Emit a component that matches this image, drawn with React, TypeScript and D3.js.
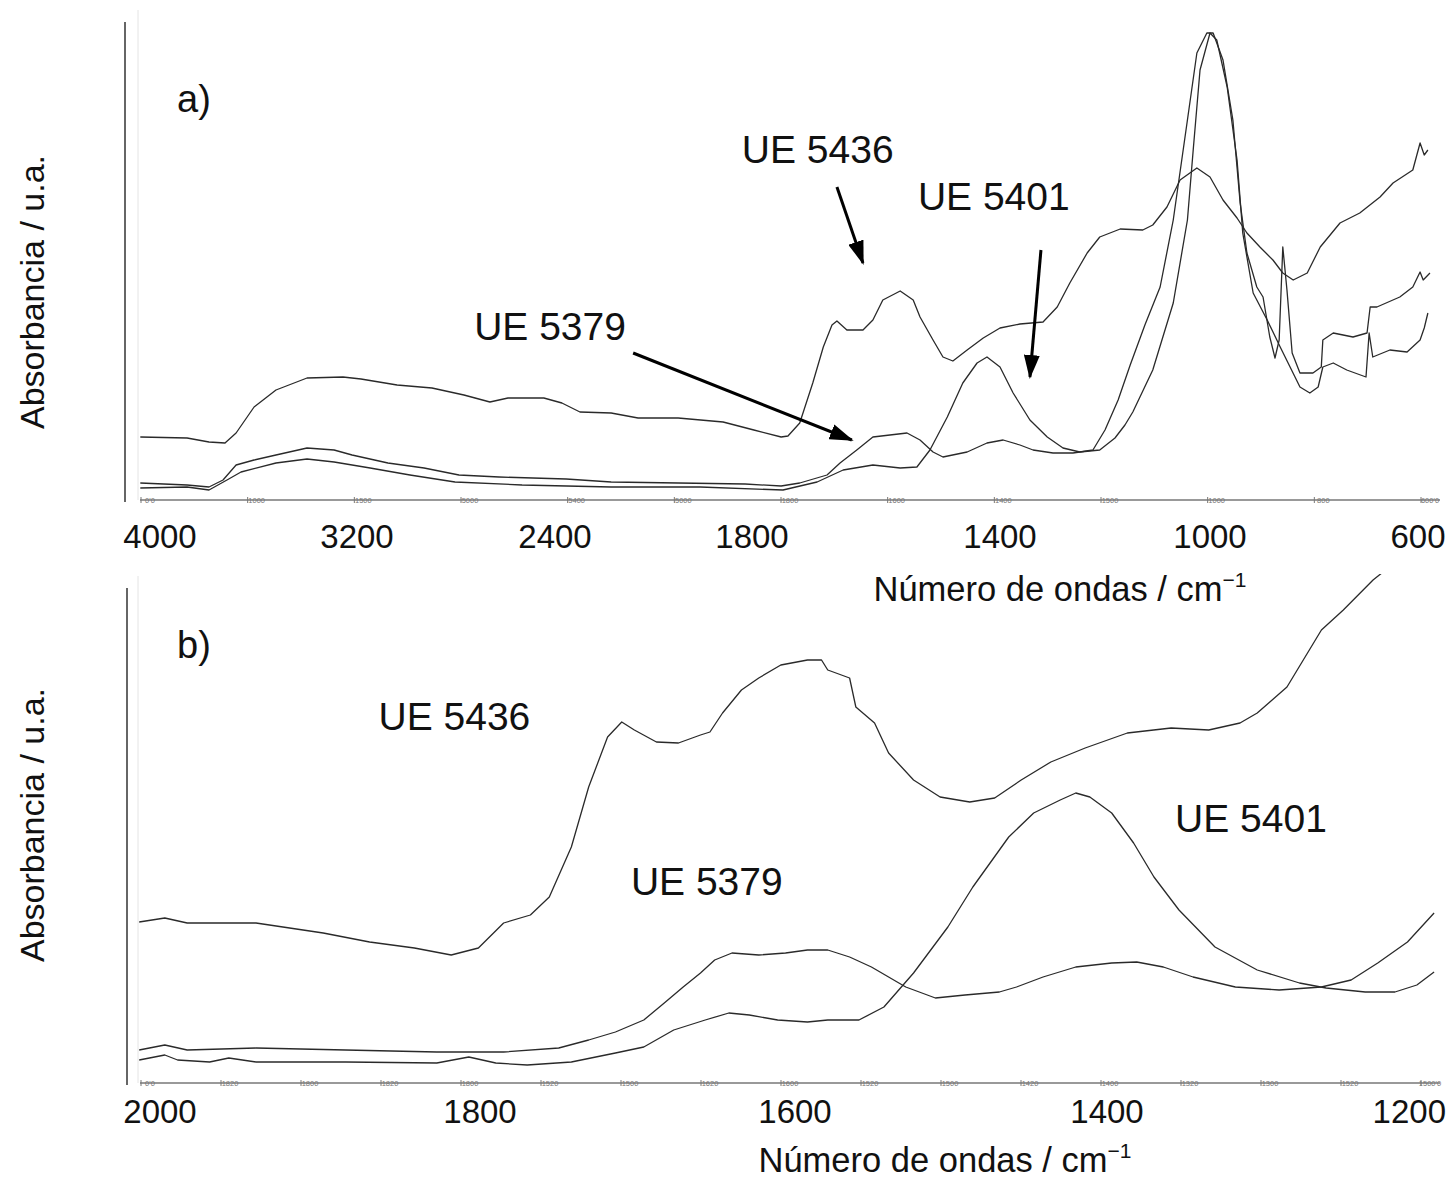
import { useEffect, useRef } from "react";
import * as d3 from "d3";

const FONT = "'Liberation Sans', Arial, Helvetica, sans-serif";

// ---- panel a) full range, wavenumber (cm-1) vs absorbance (a.u.)
const ticksA = [4000, 3200, 2400, 1800, 1400, 1000, 600];
const innerLabelsA = ["0'0", "1000", "1500", "5000", "5400", "5000", "1800", "1600", "1400", "1500", "1000", "800", "600'0"];

const ue5436A = [
  [4080, 0.63], [3890, 0.62], [3801, 0.58], [3736, 0.57], [3691, 0.67], [3618, 0.93], [3529, 1.1],
  [3403, 1.22], [3257, 1.23], [3184, 1.21], [3038, 1.15], [2897, 1.12], [2768, 1.05], [2663, 0.98],
  [2590, 1.02], [2445, 1.02], [2379, 0.97], [2324, 0.88], [2229, 0.87], [2147, 0.82], [2025, 0.82],
  [1888, 0.78], [1797, 0.7], [1753, 0.63], [1742, 0.64], [1723, 0.77], [1702, 1.17], [1685, 1.53],
  [1671, 1.75], [1663, 1.79], [1647, 1.7], [1621, 1.7], [1605, 1.8], [1589, 2.0], [1561, 2.09],
  [1540, 2.0], [1529, 1.83], [1508, 1.6], [1492, 1.43], [1476, 1.39], [1453, 1.5], [1427, 1.62],
  [1400, 1.72], [1362, 1.76], [1318, 1.78], [1291, 1.93], [1267, 2.17], [1234, 2.47], [1210, 2.63],
  [1171, 2.71], [1128, 2.7], [1109, 2.75], [1082, 2.93], [1057, 3.2], [1025, 3.32], [1000, 3.23],
  [975, 3.0], [948, 2.82], [929, 2.67], [904, 2.53], [879, 2.4], [860, 2.27], [840, 2.2], [813, 2.27],
  [788, 2.53], [750, 2.77], [712, 2.87], [673, 3.03], [648, 3.17], [610, 3.3], [596, 3.57], [588, 3.45],
  [581, 3.5],
];

const ue5379A = [
  [4080, 0.17], [3890, 0.15], [3801, 0.13], [3744, 0.2], [3691, 0.35], [3618, 0.4], [3529, 0.45],
  [3403, 0.52], [3293, 0.5], [3220, 0.45], [3075, 0.37], [2929, 0.32], [2788, 0.25], [2626, 0.23],
  [2366, 0.21], [2229, 0.18], [2025, 0.17], [1821, 0.16], [1753, 0.14], [1723, 0.17], [1679, 0.25],
  [1658, 0.37], [1631, 0.5], [1605, 0.63], [1550, 0.67], [1529, 0.6], [1508, 0.48], [1492, 0.43],
  [1453, 0.48], [1421, 0.57], [1394, 0.6], [1362, 0.55], [1337, 0.5], [1299, 0.47], [1261, 0.47],
  [1223, 0.5], [1200, 0.7], [1175, 1.0], [1152, 1.35], [1124, 1.75], [1095, 2.13], [1070, 2.8],
  [1043, 3.8], [1025, 4.47], [1006, 4.67], [994, 4.67], [975, 4.4], [956, 3.8], [942, 2.97],
  [929, 2.47], [910, 2.13], [898, 2.03], [885, 1.63], [875, 1.42], [867, 1.6], [860, 2.53], [852, 2.1],
  [842, 1.47], [827, 1.27], [802, 1.27], [786, 1.33], [783, 1.6], [763, 1.67], [725, 1.63], [698, 1.67],
  [692, 1.93], [679, 1.93], [635, 2.03], [610, 2.13], [596, 2.28], [590, 2.2], [577, 2.27],
];

const ue5401A = [
  [4080, 0.12], [3890, 0.13], [3801, 0.1], [3728, 0.2], [3671, 0.28], [3529, 0.37], [3403, 0.41],
  [3293, 0.38], [3147, 0.32], [2986, 0.25], [2804, 0.18], [2533, 0.15], [2229, 0.13], [1958, 0.13],
  [1750, 0.1], [1695, 0.18], [1653, 0.3], [1605, 0.35], [1561, 0.32], [1534, 0.33], [1513, 0.5],
  [1485, 0.83], [1460, 1.17], [1437, 1.37], [1421, 1.43], [1400, 1.33], [1375, 1.07], [1343, 0.8],
  [1310, 0.63], [1280, 0.52], [1248, 0.48], [1210, 0.5], [1181, 0.62], [1162, 0.75], [1147, 0.88],
  [1109, 1.3], [1070, 1.97], [1043, 2.8], [1032, 3.5], [1019, 4.3], [1000, 4.67], [987, 4.6],
  [967, 4.13], [948, 3.4], [937, 2.67], [917, 2.07], [890, 1.8], [865, 1.53], [846, 1.33], [827, 1.13],
  [808, 1.07], [792, 1.13], [783, 1.33], [763, 1.37], [737, 1.3], [700, 1.23], [694, 1.67], [687, 1.43],
  [654, 1.5], [621, 1.48], [596, 1.6], [588, 1.72], [581, 1.87],
];

// ---- panel b) zoom 2000-1200 cm-1
const ticksB = [2000, 1800, 1600, 1400, 1200];
const innerLabelsB = ["0'0", "1820", "1800", "1820", "1800", "1520", "1500", "1620", "1600", "1520", "1500", "1420", "1400", "1320", "1300", "1520", "1500'0"];

const ue5436B = [
  [2013, 1.6], [1997, 1.64], [1983, 1.59], [1940, 1.59], [1898, 1.49], [1869, 1.4], [1841, 1.34],
  [1818, 1.27], [1801, 1.34], [1785, 1.59], [1768, 1.67], [1756, 1.85], [1742, 2.35], [1731, 2.95],
  [1719, 3.45], [1710, 3.6], [1702, 3.52], [1688, 3.4], [1674, 3.39], [1660, 3.47], [1654, 3.5],
  [1646, 3.69], [1634, 3.92], [1623, 4.04], [1609, 4.17], [1592, 4.22], [1583, 4.22], [1579, 4.12],
  [1565, 4.04], [1561, 3.75], [1549, 3.59], [1540, 3.29], [1524, 3.02], [1507, 2.85], [1488, 2.8],
  [1472, 2.84], [1455, 3.02], [1436, 3.2], [1414, 3.34], [1387, 3.49], [1359, 3.54], [1335, 3.52],
  [1315, 3.59], [1304, 3.69], [1285, 3.95], [1263, 4.52], [1249, 4.72], [1230, 5.02], [1222, 5.12],
];

const ue5379B = [
  [2013, 0.32], [1997, 0.37], [1983, 0.32], [1940, 0.34], [1884, 0.32], [1827, 0.3], [1785, 0.3],
  [1750, 0.34], [1731, 0.42], [1714, 0.5], [1696, 0.62], [1683, 0.79], [1671, 0.95], [1660, 1.09],
  [1651, 1.22], [1640, 1.29], [1623, 1.27], [1606, 1.29], [1592, 1.32], [1579, 1.32], [1565, 1.25],
  [1551, 1.15], [1540, 1.05], [1529, 0.95], [1510, 0.84], [1491, 0.87], [1469, 0.9], [1458, 0.95],
  [1441, 1.05], [1420, 1.15], [1397, 1.19], [1381, 1.2], [1364, 1.15], [1345, 1.05], [1318, 0.95],
  [1290, 0.92], [1263, 0.95], [1244, 1.02], [1227, 1.19], [1208, 1.4], [1191, 1.69],
];

const ue5401B = [
  [2013, 0.22], [1997, 0.27], [1989, 0.22], [1969, 0.2], [1957, 0.24], [1940, 0.2], [1884, 0.2],
  [1827, 0.19], [1807, 0.25], [1790, 0.19], [1770, 0.17], [1742, 0.2], [1714, 0.29], [1696, 0.35],
  [1677, 0.52], [1657, 0.62], [1642, 0.69], [1629, 0.67], [1611, 0.62], [1592, 0.6], [1579, 0.62],
  [1559, 0.62], [1543, 0.75], [1524, 1.09], [1502, 1.55], [1486, 1.95], [1463, 2.45], [1447, 2.69],
  [1430, 2.82], [1420, 2.89], [1411, 2.85], [1397, 2.69], [1383, 2.39], [1370, 2.05], [1354, 1.72],
  [1331, 1.35], [1304, 1.12], [1277, 0.99], [1260, 0.94], [1235, 0.9], [1216, 0.9], [1202, 0.97],
  [1191, 1.1],
];

// labels placed in data units: [wavenumber, absorbance]
const labelsA = [
  { text: "UE 5436", at: [1694, 3.37] },
  { text: "UE 5401", at: [1410, 2.9] },
  { text: "UE 5379", at: [2420, 1.6] },
];
const arrowsA = [
  { from: [1663, 3.13], to: [1621, 2.37] },
  { from: [1322, 2.5], to: [1343, 1.23] },
  { from: [2162, 1.47], to: [1639, 0.6] },
];
const labelsB = [
  { text: "UE 5436", at: [1816, 3.52] },
  { text: "UE 5379", at: [1656, 1.87] },
  { text: "UE 5401", at: [1308, 2.5] },
];

function drawPanel(svg, p) {
  const g = svg.append("g");
  const x = p.x;
  const y = p.y;

  // faint frame line and the left axis
  g.append("line").attr("x1", 138).attr("x2", 138).attr("y1", p.top - 12).attr("y2", p.axisY)
    .attr("stroke", "#e4e4e4").attr("stroke-width", 1);
  g.append("line").attr("x1", p.leftX).attr("x2", p.leftX).attr("y1", p.top).attr("y2", p.axisY + 2)
    .attr("stroke", "#666").attr("stroke-width", 2);

  // instrument axis with its tiny labels
  g.append("line").attr("x1", 140).attr("x2", 1440).attr("y1", p.axisY).attr("y2", p.axisY)
    .attr("stroke", "#777").attr("stroke-width", 1.6);
  const inner = d3.scalePoint().domain(p.inner.map((d, i) => String(i))).range(p.innerRange);
  p.inner.forEach((lab, i) => {
    const cx = inner(String(i));
    g.append("line").attr("x1", cx - 9).attr("x2", cx - 9).attr("y1", p.axisY - 3).attr("y2", p.axisY + 3)
      .attr("stroke", "#777").attr("stroke-width", 1);
    g.append("text").attr("x", cx).attr("y", p.axisY + 2.5).attr("text-anchor", "middle")
      .attr("font-family", FONT).attr("font-size", 7.5).attr("fill", "#777").text(lab);
  });

  // big tick labels, kept inside the picture at the right edge
  g.selectAll(".tl").data(p.ticks).enter().append("text")
    .attr("y", p.tickY).attr("text-anchor", "middle")
    .attr("font-family", FONT).attr("font-size", 33).attr("fill", "#111").text((d) => d)
    .each(function (d) {
      const half = this.getComputedTextLength() / 2;
      d3.select(this).attr("x", Math.min(x(d), 1446 - half));
    });

  // axis titles
  const t = g.append("text").attr("x", p.titleX).attr("y", p.titleY).attr("text-anchor", "middle")
    .attr("font-family", FONT).attr("font-size", 34.5).attr("fill", "#111");
  t.append("tspan").text("Número de ondas / cm");
  t.append("tspan").attr("dy", -14).attr("font-size", 21).text("−1");

  g.append("text").attr("transform", `translate(44,${p.yLabelY}) rotate(-90)`).attr("text-anchor", "middle")
    .attr("font-family", FONT).attr("font-size", 34).attr("fill", "#111").text("Absorbancia / u.a.");

  g.append("text").attr("x", 177).attr("y", p.tagY).attr("font-family", FONT).attr("font-size", 38)
    .attr("fill", "#111").text(p.tag);

  // spectra
  const clipId = `clip-${p.tag.replace(")", "")}`;
  svg.select("defs").append("clipPath").attr("id", clipId).append("rect")
    .attr("x", 130).attr("y", p.clipTop).attr("width", 1321).attr("height", p.axisY - p.clipTop);
  const line = d3.line().x((d) => x(d[0])).y((d) => y(d[1]));
  g.append("g").attr("clip-path", `url(#${clipId})`).selectAll("path").data(p.series).enter().append("path")
    .attr("d", (d) => line(d)).attr("fill", "none").attr("stroke", "#2a2a2a").attr("stroke-width", 1.3)
    .attr("stroke-linejoin", "round");

  g.selectAll(".lab").data(p.labels).enter().append("text")
    .attr("x", (d) => x(d.at[0])).attr("y", (d) => y(d.at[1])).attr("text-anchor", "middle")
    .attr("font-family", FONT).attr("font-size", 39).attr("fill", "#111").text((d) => d.text);

  g.selectAll(".arr").data(p.arrows).enter().append("line")
    .attr("x1", (d) => x(d.from[0])).attr("y1", (d) => y(d.from[1]))
    .attr("x2", (d) => x(d.to[0])).attr("y2", (d) => y(d.to[1]))
    .attr("stroke", "#000").attr("stroke-width", 3).attr("marker-end", "url(#arrow)");
}

export default function App() {
  const svgRef = useRef(null);

  useEffect(() => {
    const svg = d3.select(svgRef.current);
    svg.selectAll("*").remove();

    svg.append("rect").attr("width", 1451).attr("height", 1186).attr("fill", "#fff");
    const defs = svg.append("defs");
    defs.append("marker").attr("id", "arrow").attr("viewBox", "0 0 24 16").attr("refX", 22).attr("refY", 8)
      .attr("markerWidth", 24).attr("markerHeight", 16).attr("markerUnits", "userSpaceOnUse")
      .attr("orient", "auto").append("path").attr("d", "M0,0L24,8L0,16z").attr("fill", "#000");

    const xA = d3.scaleLinear().domain(ticksA).range([160, 357, 555, 752, 1000, 1210, 1418]);
    const yA = d3.scaleLinear().domain([0, 4.7]).range([500, 30]);
    drawPanel(svg, {
      x: xA, y: yA, ticks: ticksA, inner: innerLabelsA, innerRange: [150, 1430],
      top: 22, leftX: 125, axisY: 500, tickY: 548, titleX: 1060, titleY: 601, yLabelY: 292,
      tag: "a)", tagY: 112, clipTop: 0,
      series: [ue5436A, ue5379A, ue5401A], labels: labelsA, arrows: arrowsA,
    });

    const xB = d3.scaleLinear().domain(ticksB).range([160, 480, 795, 1107, 1420]);
    const yB = d3.scaleLinear().domain([0, 5]).range([1082, 582]);
    drawPanel(svg, {
      x: xB, y: yB, ticks: ticksB, inner: innerLabelsB, innerRange: [150, 1430],
      top: 588, leftX: 127, axisY: 1083, tickY: 1123, titleX: 945, titleY: 1172, yLabelY: 825,
      tag: "b)", tagY: 658, clipTop: 574,
      series: [ue5436B, ue5379B, ue5401B], labels: labelsB, arrows: [],
    });
  }, []);

  return (
    <div>
      <style>{"body{margin:0}"}</style>
      <svg ref={svgRef} width={1451} height={1186} style={{ display: "block" }}></svg>
    </div>
  );
}
